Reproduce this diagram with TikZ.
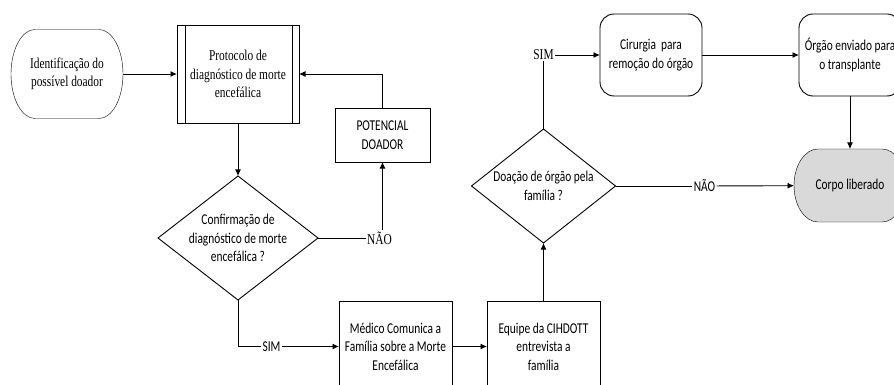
\documentclass[tikz,border=0pt]{standalone}
\usepackage{fontspec}
\newfontfamily\serifb[FakeStretch=0.76]{Liberation Serif}
\newfontfamily\sansb[FakeStretch=0.76]{Carlito}
\usepackage{tikz}
\usetikzlibrary{arrows.meta}
\usetikzlibrary{calc}
\usetikzlibrary{shapes.geometric}
\usetikzlibrary{backgrounds}
\newcommand*\stadium[3]{\draw[fill=#3]($(#1.north west)+(24pt,0pt)$)--($(#1.north east)+(-24pt,0pt)$)
            arc[start angle=90,end angle=-90,x radius=24pt,y radius=#2]--($(#1.south west)+(24pt,0pt)$)
            arc[start angle=270,end angle=90,x radius=24pt,y radius=#2]--cycle;}

\begin{document}
\begin{tikzpicture}[x=1pt,y=-1pt,>={Latex[length=6.5pt,width=6pt]},line width=0.9pt,
	serif/.style={font=\serifb\fontsize{15}{18.5}\selectfont,align=center,inner sep=1pt},
	sans/.style={font=\sansb\fontsize{15}{18.5}\selectfont,align=center,inner sep=1pt},
	box/.style={draw,sans,inner sep=0pt,outer sep=0pt,minimum width=113,minimum height=91},
	rbox/.style={box,rounded corners=14,minimum width=102,minimum height=82},
	dec/.style={diamond,draw,sans,aspect=1.3,inner sep=-3pt,outer sep=0pt},
	term/.style={inner sep=0pt,outer sep=0pt,minimum width=112}]
			\useasboundingbox(0,0)rectangle(894,385);
			\node[term,serif,minimum height=89](ident)at(67,74){Identificação do\\possível doador};
			\node[box,serif,minimum width=122,minimum height=98](proto)at(238,74){Protocolo de\\diagnóstico de morte\\encefálica};
			\node[box,minimum width=95,minimum height=54](pot)at(382.5,135){POTENCIAL\\DOADOR};
			\node[dec,minimum width=160,minimum height=124](conf)at(238,238){Confirmação de\\diagnóstico de morte\\encefálica ?};
			\node[box](med)at(395.5,346.5){Médico Comunica a\\Família sobre a Morte\\Encefálica};
			\node[box](eq)at(543.5,346.5){Equipe da CIHDOTT\\entrevista a\\família};
			\node[dec,minimum width=144,minimum height=114](don)at(543.5,186){Doação de órgão pela\\família ?};
			\node[rbox](cir)at(651,55){Cirurgia\ \ para\\remoção do órgão};
			\node[rbox](org)at(850,55){Órgão enviado para\\o transplante};
			\node[term,sans,minimum height=73](corpo)at(850,185.5){Corpo liberado};
			\node[serif](nao1)at(379.5,238){NÃO};
			\node[sans](sim1)at(271.5,346.5){SIM};
			\node[serif](sim2)at(543.5,55){SIM};
			\node[sans](nao2)at(704.5,186){NÃO};
			\begin{scope}[on background layer]
				\stadium{ident}{44.5pt}{white}
				\stadium{corpo}{36.5pt}{black!15}
			\end{scope}
			\draw($(proto.north west)+(8pt,0pt)$)--($(proto.south west)+(8pt,0pt)$);
			\draw($(proto.north east)+(-7pt,0pt)$)--($(proto.south east)+(-7pt,0pt)$);
			\draw[->](ident)--(proto);
			\draw[->](pot.north)|-(proto.east);
			\draw[->](proto)--(conf);
			\draw(conf.east)--(nao1.west);
			\draw[->](nao1.north-|pot.south)--(pot.south);
			\draw(conf.south)|-(sim1.west);
			\draw[->](sim1)--(med);
			\draw[->](med)--(eq);
			\draw[->](eq)--(don);
			\draw(don.north)--(sim2.south);
			\draw[->](sim2)--(cir);
			\draw[->](cir)--(org);
			\draw[->](org)--(corpo);
			\draw(don.east)--(nao2.west);
			\draw[->](nao2)--(corpo);
		\end{tikzpicture}
\end{document}
